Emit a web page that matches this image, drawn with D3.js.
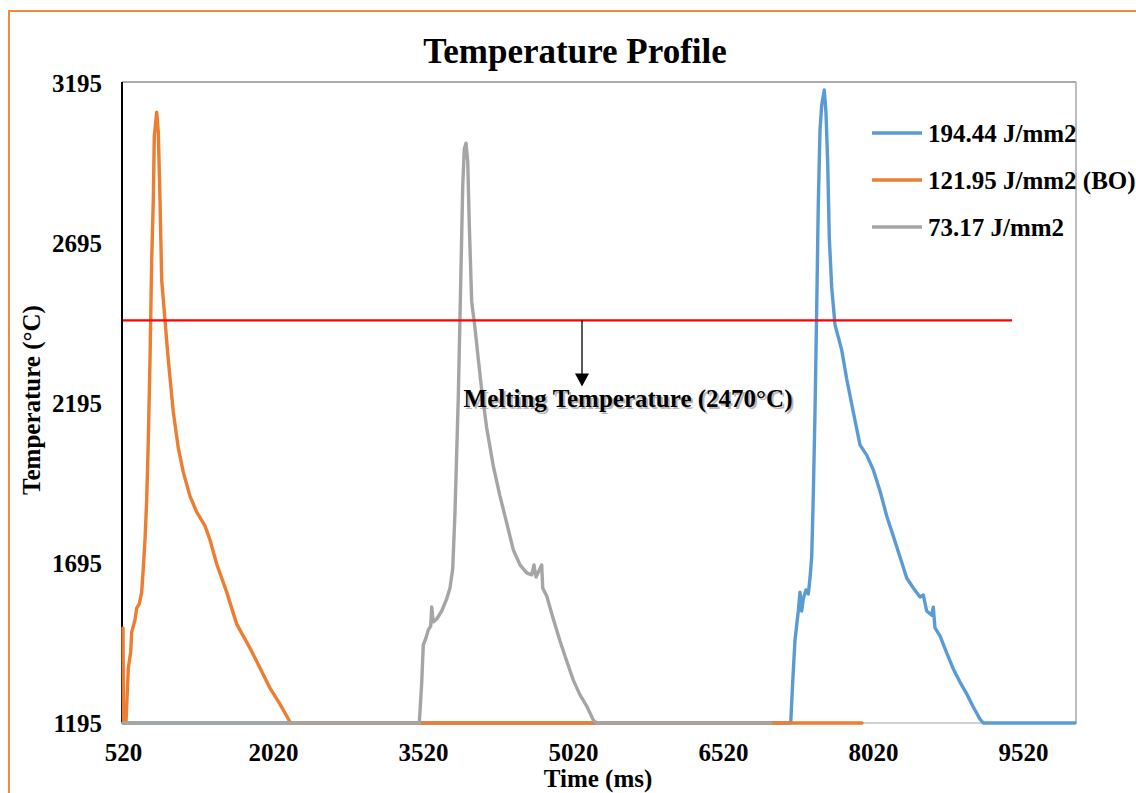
<!DOCTYPE html>
<html>
<head>
<meta charset="utf-8">
<script src="https://cdn.jsdelivr.net/npm/d3@7"></script>
<style>
  html, body { margin: 0; padding: 0; background: #fff; }
  svg { display: block; }
  text { font-family: "Liberation Serif", "Times New Roman", "DejaVu Serif", serif; font-weight: bold; fill: #000; }
</style>
</head>
<body>
<svg id="chart" width="1136" height="793"></svg>
<script>
// ---------- DATA ----------
const chartTitle = "Temperature Profile";
const xAxisTitle = "Time (ms)";
const yAxisTitle = "Temperature (°C)";
const xTicks = [520, 2020, 3520, 5020, 6520, 8020, 9520];
const yTicks = [1195, 1695, 2195, 2695, 3195];
const xDomain = [520, 10040];
const yDomain = [1195, 3195];
const seriesNames = ["194.44 J/mm2", "121.95 J/mm2 (BO)", "73.17 J/mm2"];

// [time ms, temperature °C]
const blueSeries = [
  [520,1195],[7197,1195],[7217,1323],[7240,1454],[7273,1545],[7290,1604],[7307,1545],
  [7323,1583],[7350,1611],[7373,1598],[7390,1648],[7407,1714],[7423,1907],[7440,2167],
  [7457,2492],[7473,2817],[7490,3048],[7507,3126],[7533,3173],[7550,3101],[7567,2945],
  [7583,2711],[7607,2557],[7640,2439],[7673,2401],[7707,2361],[7757,2270],[7823,2167],
  [7890,2064],[7957,2032],[8023,1986],[8090,1920],[8157,1842],[8223,1779],[8290,1714],
  [8357,1648],[8423,1617],[8490,1589],[8523,1595],[8557,1545],[8607,1532],[8623,1557],
  [8640,1492],[8690,1467],[8757,1414],[8823,1364],[8890,1323],[8957,1286],[9023,1245],
  [9090,1207],[9123,1195],[10040,1195]
];
const orangeSeries = [
  [520,1492],[525,1195],[550,1195],[573,1367],[597,1417],[607,1479],[640,1517],[657,1554],
  [683,1567],[707,1604],[723,1679],[740,1767],[757,1892],[773,2079],[790,2329],[807,2642],
  [823,2829],[833,3029],[857,3104],[873,3042],[890,2829],[907,2579],[940,2454],[973,2329],
  [1023,2167],[1073,2054],[1123,1979],[1190,1904],[1257,1854],[1340,1811],[1390,1767],
  [1457,1692],[1557,1604],[1657,1504],[1790,1429],[1890,1367],[1990,1304],[2090,1254],
  [2190,1198],[2200,1195],[7910,1195]
];
const graySeries = [
  [520,1195],[3483,1195],[3507,1320],[3523,1439],[3550,1461],[3573,1486],[3597,1498],
  [3607,1558],[3623,1511],[3657,1520],[3707,1545],[3757,1583],[3790,1617],[3817,1676],
  [3840,1854],[3873,2214],[3897,2570],[3917,2870],[3933,2989],[3950,3007],[3967,2951],
  [3983,2751],[4007,2511],[4040,2429],[4073,2332],[4107,2236],[4157,2117],[4223,1998],
  [4290,1904],[4357,1820],[4423,1736],[4490,1689],[4557,1664],[4607,1658],[4630,1689],
  [4650,1651],[4707,1689],[4717,1617],[4757,1592],[4823,1520],[4890,1451],[4957,1389],
  [5023,1329],[5090,1283],[5157,1248],[5223,1204],[5257,1195],[7000,1195]
];
const meltingLabel = "Melting Temperature (2470°C)";
const meltingLine = [[520, 2453], [9410, 2453]];
const meltingArrowTime = 5110;

// ---------- DRAW ----------
const svg = d3.select("#chart");
const W = 1136, H = 793;
const plot = { left: 122, right: 1076, top: 82, bottom: 723 };
const FS = 25;

// outer orange frame
svg.append("rect").attr("x", 9).attr("y", 11).attr("width", W + 20).attr("height", H + 20)
  .attr("fill", "none").attr("stroke", "#F08A3C").attr("stroke-width", 2);

const x = d3.scaleLinear().domain(xDomain).range([123, 1075]);
const y = d3.scaleLinear().domain(yDomain).range([723, 83]);

// plot border (top + right)
svg.append("line").attr("x1", plot.left).attr("x2", plot.right).attr("y1", plot.top).attr("y2", plot.top)
  .attr("stroke", "#595959").attr("stroke-width", 1.2);
svg.append("line").attr("x1", plot.right).attr("x2", plot.right).attr("y1", plot.top).attr("y2", plot.bottom)
  .attr("stroke", "#A6A6A6").attr("stroke-width", 1.5);

// x axis (bottom)
const xAxis = d3.axisBottom(x).tickValues(xTicks).tickSize(0).tickPadding(0).tickFormat(d3.format("d"));
const gx = svg.append("g").attr("transform", `translate(0,${plot.bottom})`).call(xAxis);
gx.select(".domain").attr("stroke", "#D0D0D0").attr("stroke-width", 2)
  .attr("d", `M${plot.left},0H${plot.right}`);
gx.selectAll(".tick text").attr("font-size", FS).attr("dy", 0).attr("y", 38)
  .style("font-family", '"Liberation Serif","Times New Roman",serif').style("font-weight", "bold").attr("fill", "#000");

// y axis (left)
const yAxis = d3.axisLeft(y).tickValues(yTicks).tickSize(0).tickPadding(0).tickFormat(d3.format("d"));
const gy = svg.append("g").attr("transform", `translate(${plot.left},0)`).call(yAxis);
gy.select(".domain").attr("stroke", "#000").attr("stroke-width", 2)
  .attr("d", `M0,${plot.top}V${plot.bottom}`);
gy.selectAll(".tick text").attr("font-size", FS).attr("x", -20).attr("dy", "0.35em")
  .style("font-family", '"Liberation Serif","Times New Roman",serif').style("font-weight", "bold").attr("fill", "#000");

// series
const line = d3.line().x(d => x(d[0])).y(d => y(d[1]));
const series = [
  { data: blueSeries, color: "#5B9BD5" },
  { data: orangeSeries, color: "#ED7D31" },
  { data: graySeries, color: "#A5A5A5" }
];
series.forEach(s => {
  svg.append("path").datum(s.data).attr("d", line).attr("fill", "none")
    .attr("stroke", s.color).attr("stroke-width", 3.4)
    .attr("stroke-linejoin", "round").attr("stroke-linecap", "round");
});

// melting line
svg.append("path").datum(meltingLine).attr("d", line).attr("fill", "none")
  .attr("stroke", "#FF0000").attr("stroke-width", 2.2);

// arrow
const ax = x(meltingArrowTime), ay0 = y(meltingLine[0][1]);
svg.append("line").attr("x1", ax).attr("x2", ax).attr("y1", ay0).attr("y2", ay0 + 54)
  .attr("stroke", "#000").attr("stroke-width", 1.3);
svg.append("path").attr("d", `M${ax - 7},${ay0 + 53}L${ax + 7},${ay0 + 53}L${ax},${ay0 + 66}Z`).attr("fill", "#000");

// melting label with shadow
const lx = 628, ly = 407;
svg.append("text").attr("x", lx + 2).attr("y", ly + 2).attr("text-anchor", "middle")
  .attr("font-size", FS).style("fill", "#9a9a9a").attr("opacity", 0.7).text(meltingLabel);
svg.append("text").attr("x", lx).attr("y", ly).attr("text-anchor", "middle")
  .attr("font-size", FS).text(meltingLabel);

// title
svg.append("text").attr("x", 575).attr("y", 63).attr("text-anchor", "middle")
  .attr("font-size", 35).text(chartTitle);

// axis titles
svg.append("text").attr("x", 598).attr("y", 787).attr("text-anchor", "middle")
  .attr("font-size", FS).text(xAxisTitle);
svg.append("text").attr("transform", "translate(40,400) rotate(-90)").attr("text-anchor", "middle")
  .attr("font-size", FS).text(yAxisTitle);

// legend
const legendColors = ["#5B9BD5", "#ED7D31", "#A5A5A5"];
const legendY = [133, 180, 227];
seriesNames.forEach((name, i) => {
  svg.append("line").attr("x1", 872).attr("x2", 922).attr("y1", legendY[i]).attr("y2", legendY[i])
    .attr("stroke", legendColors[i]).attr("stroke-width", 3.4);
  svg.append("text").attr("x", 928).attr("y", legendY[i]).attr("dy", "0.35em")
    .attr("font-size", FS).text(name);
});
</script>
</body>
</html>
